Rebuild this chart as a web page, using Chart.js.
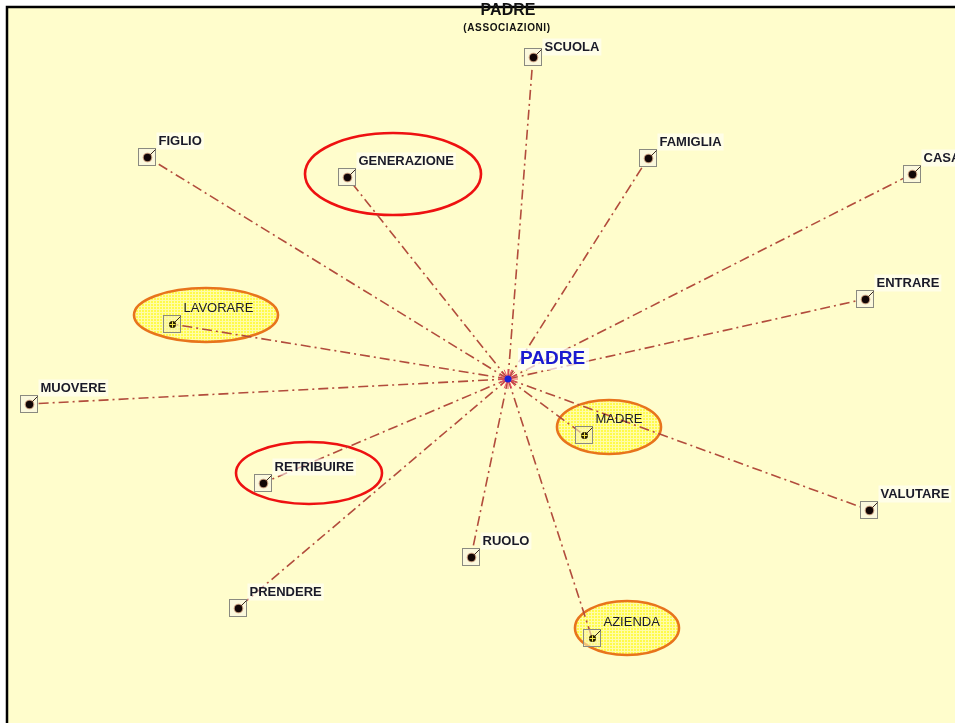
<!DOCTYPE html>
<html>
<head>
<meta charset="utf-8">
<script src="https://cdn.jsdelivr.net/npm/chart.js@4.4.1/dist/chart.umd.min.js"></script>
<style>
  html, body { margin: 0; padding: 0; background: #ffffff; }
  #wrap { width: 955px; height: 723px; }
</style>
</head>
<body>
<div id="wrap"><canvas id="mapChart" width="955" height="723"></canvas></div>
<script>
// Association map data (centre = PADRE at 0,0; x to the right, y upwards)
const centerWord = 'PADRE';
const words = ['SCUOLA', 'FIGLIO', 'GENERAZIONE', 'FAMIGLIA', 'CASA', 'ENTRARE', 'LAVORARE',
               'MUOVERE', 'MADRE', 'VALUTARE', 'RETRIBUIRE', 'RUOLO', 'PRENDERE', 'AZIENDA'];
const posX = [25, -361, -161, 140, 404, 357, -336, -479, 76, 361, -245, -37, -270, 84];
const posY = [322, 222, 202, 221, 205, 80, 55, -25, -56, -131, -104, -178, -229, -259];
// highlighted words: red outline or yellow filled
const redMarked = ['GENERAZIONE', 'RETRIBUIRE'];
const yellowMarked = ['LAVORARE', 'MADRE', 'AZIENDA'];

const titleText = 'PADRE';
const subtitleText = '(ASSOCIAZIONI)';

// ellipse placement relative to the node box (pixels)
const ellipseStyle = {
    GENERAZIONE: { dx: 46, dy: -3, rx: 88, ry: 41 },
    RETRIBUIRE: { dx: 46, dy: -10, rx: 73, ry: 31 },
    LAVORARE: { dx: 34, dy: -9, rx: 72, ry: 27 },
    MADRE: { dx: 25, dy: -8, rx: 52, ry: 27 },
    AZIENDA: { dx: 35, dy: -10, rx: 52, ry: 27 }
};
// labels sit above-right of the box; SCUOLA is nudged down under the title
const labelDy = { SCUOLA: -10 };

document.addEventListener('DOMContentLoaded', function() {
    const canvas = document.getElementById('mapChart');
    const ctx = canvas.getContext('2d');
    const labelFont = 'bold 13px "Liberation Sans", Arial, sans-serif';
    const markedFont = '13px "Liberation Sans", Arial, sans-serif';

    // yellow grid texture for the filled ellipses
    function makePattern() {
        const p = document.createElement('canvas');
        p.width = 3; p.height = 3;
        const pc = p.getContext('2d');
        pc.fillStyle = '#fffb4a';
        pc.fillRect(0, 0, 3, 3);
        pc.fillStyle = '#fffca8';
        pc.fillRect(0, 0, 3, 1);
        pc.fillRect(0, 0, 1, 3);
        return ctx.createPattern(p, 'repeat');
    }
    const yellowFill = makePattern();

    // one spoke per word, from centre to node
    const spokes = words.map((w, i) => ({
        label: w,
        data: [{ x: 0, y: 0 }, { x: posX[i], y: posY[i] }],
        showLine: true,
        borderColor: '#b24c3c',
        borderWidth: 1.6,
        borderDash: [10, 4, 2, 4],
        pointRadius: 0,
        fill: false
    }));

    function px(chart, x) { return chart.scales.x.getPixelForValue(x); }
    function py(chart, y) { return chart.scales.y.getPixelForValue(y); }

    const backgroundPlugin = {
        id: 'background',
        beforeDraw(chart) {
            const c = chart.ctx;
            c.save();
            c.fillStyle = '#ffffff';
            c.fillRect(0, 0, chart.width, chart.height);
            c.fillStyle = '#fffdcc';
            c.fillRect(7, 7, chart.width, chart.height);
            c.strokeStyle = '#000000';
            c.lineWidth = 2.5;
            c.beginPath();
            c.moveTo(7, chart.height + 5);
            c.lineTo(7, 7);
            c.lineTo(chart.width + 5, 7);
            c.stroke();
            c.restore();
        }
    };

    // ellipses around marked words (drawn under the spokes)
    const ellipsePlugin = {
        id: 'ellipses',
        beforeDatasetsDraw(chart) {
            const c = chart.ctx;
            c.save();
            words.forEach((w, i) => {
                const st = ellipseStyle[w];
                if (!st) return;
                const cx = px(chart, posX[i]) + st.dx;
                const cy = py(chart, posY[i]) + st.dy;
                c.beginPath();
                c.ellipse(cx, cy, st.rx, st.ry, 0, 0, Math.PI * 2);
                c.lineWidth = 2.6;
                if (yellowMarked.includes(w)) {
                    c.fillStyle = yellowFill;
                    c.fill();
                    c.strokeStyle = '#e8741c';
                } else {
                    c.strokeStyle = '#ee1111';
                }
                c.stroke();
            });
            c.restore();
        }
    };

    // node boxes, centre burst and labels
    const nodePlugin = {
        id: 'nodes',
        afterDatasetsDraw(chart) {
            const c = chart.ctx;
            c.save();
            words.forEach((w, i) => {
                const x = Math.round(px(chart, posX[i])) + 0.5;
                const y = Math.round(py(chart, posY[i])) + 0.5;
                const marked = yellowMarked.includes(w);
                c.fillStyle = marked ? 'rgba(250,245,180,0.6)' : '#fbf8dc';
                c.fillRect(x - 9, y - 9, 17, 17);
                c.strokeStyle = '#8a8a80';
                c.lineWidth = 1;
                c.strokeRect(x - 9, y - 9, 17, 17);
                // little tick to the box corner
                c.strokeStyle = '#3a2a20';
                c.beginPath();
                c.moveTo(x, y);
                c.lineTo(x + 8, y - 8);
                c.stroke();
                if (marked) {
                    c.fillStyle = '#2a2000';
                    c.beginPath();
                    c.arc(x, y, 3.5, 0, Math.PI * 2);
                    c.fill();
                    c.strokeStyle = '#f5e64a';
                    c.beginPath();
                    c.moveTo(x - 3, y); c.lineTo(x + 3, y);
                    c.moveTo(x, y - 3); c.lineTo(x, y + 3);
                    c.stroke();
                } else {
                    c.fillStyle = 'rgba(140,60,30,0.5)';
                    c.beginPath();
                    c.arc(x, y, 4.8, 0, Math.PI * 2);
                    c.fill();
                    c.fillStyle = '#110505';
                    c.beginPath();
                    c.arc(x, y, 3.7, 0, Math.PI * 2);
                    c.fill();
                }
                // label
                const ly = y + (labelDy[w] !== undefined ? labelDy[w] : -16);
                c.font = marked ? markedFont : labelFont;
                const tw = c.measureText(w).width;
                if (!marked) {
                    c.fillStyle = 'rgba(255,255,255,0.55)';
                    c.fillRect(x + 9, ly - 9, tw + 4, 17);
                }
                c.fillStyle = '#1a1a28';
                c.textBaseline = 'middle';
                c.textAlign = 'left';
                c.fillText(w, x + 11, ly);
            });

            // centre burst
            const cx = px(chart, 0);
            const cy = py(chart, 0);
            c.strokeStyle = '#f0506a';
            c.lineWidth = 1;
            for (let k = 0; k < 16; k++) {
                const a = k * Math.PI / 8;
                c.beginPath();
                c.moveTo(cx + Math.cos(a) * 3, cy + Math.sin(a) * 3);
                c.lineTo(cx + Math.cos(a) * 10, cy + Math.sin(a) * 10);
                c.stroke();
            }
            c.fillStyle = '#1a22d8';
            c.beginPath();
            c.arc(cx, cy, 3.5, 0, Math.PI * 2);
            c.fill();

            c.font = 'bold 19px "Liberation Sans", Arial, sans-serif';
            const cw = c.measureText(centerWord).width;
            c.fillStyle = 'rgba(255,255,255,0.7)';
            c.fillRect(cx + 10, cy - 31, cw + 6, 22);
            c.fillStyle = '#1a1ad0';
            c.textBaseline = 'middle';
            c.fillText(centerWord, cx + 12, cy - 20);

            // title
            c.textAlign = 'center';
            c.fillStyle = '#111111';
            c.font = 'bold 16px "Liberation Sans", Arial, sans-serif';
            c.fillText(titleText, cx, 11);
            c.font = 'bold 10px "Liberation Sans", Arial, sans-serif';
            c.letterSpacing = '0.6px';
            c.fillText(subtitleText, cx - 1, 28);
            c.restore();
        }
    };

    new Chart(ctx, {
        type: 'scatter',
        data: { datasets: spokes },
        options: {
            responsive: false,
            animation: false,
            layout: { padding: 0 },
            plugins: {
                legend: { display: false },
                tooltip: { enabled: false }
            },
            scales: {
                x: { type: 'linear', min: -508, max: 447, display: false },
                y: { type: 'linear', min: -344, max: 379, display: false }
            }
        },
        plugins: [backgroundPlugin, ellipsePlugin, nodePlugin]
    });
});
</script>
</body>
</html>
